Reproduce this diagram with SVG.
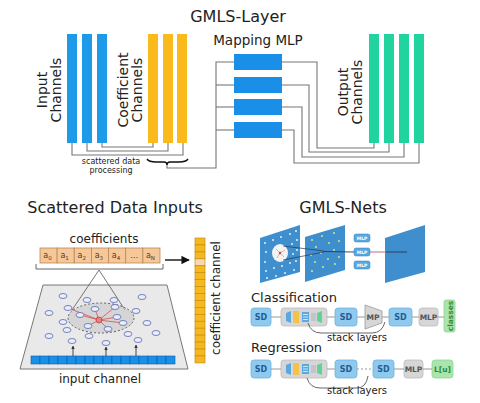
<svg xmlns="http://www.w3.org/2000/svg" width="480" height="403" viewBox="0 0 480 403">
<defs>
<style>
text{font-family:"DejaVu Sans","Liberation Sans",sans-serif;fill:#222}
.ttl{font-size:16px}
.lab{font-size:14px}
.con{fill:none;stroke:#777;stroke-width:1.1}
.bb{fill:#1d9be9}
.yb{fill:#fbba1b}
.gb{fill:#20d39f}
.mlp{fill:#1a8fe8}
.sd{fill:#8fc9ee;stroke:#6cb2e2;stroke-width:0.8}
.sdt{font-size:8px;font-weight:bold;fill:#1d5f95;text-anchor:middle}
.gr{fill:#d6d6d6;stroke:#bdbdbd;stroke-width:0.8}
.grt{font-size:7.5px;font-weight:bold;fill:#555;text-anchor:middle}
.gn{fill:#a9e5ad;stroke:#8fd696;stroke-width:0.8}
.gnt{font-size:7.5px;font-weight:bold;fill:#2f8a3f;text-anchor:middle}
.dash{stroke:#999;stroke-width:1.2;fill:none}
.pt{fill:#e9eef9;stroke:#5a66b4;stroke-width:0.8}
.cc{fill:#f5c799;stroke:#b88a5a;stroke-width:0.8}
.cct{font-size:8px;fill:#5a3a1a;text-anchor:middle}
.pl{fill:#3f8fcf}
.wd{fill:#dff0ff}
.yd{fill:#cde27a}
</style>
<marker id="ah" viewBox="0 0 10 10" refX="9" refY="5" markerWidth="6" markerHeight="6" orient="auto"><path d="M0,0 L10,5 L0,10 z" fill="#111"/></marker>
<marker id="ah2" viewBox="0 0 10 10" refX="9" refY="5" markerWidth="4" markerHeight="4" orient="auto"><path d="M0,0 L10,5 L0,10 z" fill="#333"/></marker>
</defs>
<rect width="480" height="403" fill="#ffffff"/>

<!-- ===== GMLS-Layer ===== -->
<text class="ttl" x="238" y="22" text-anchor="middle">GMLS-Layer</text>

<g id="input-channels">
<rect class="bb" x="67" y="34" width="10" height="109"/>
<rect class="bb" x="82" y="34" width="10" height="109"/>
<rect class="bb" x="97" y="34" width="10" height="109"/>
<g transform="translate(0,90) rotate(-90)">
<text class="lab" x="0" y="47" text-anchor="middle">Input</text>
<text class="lab" x="0" y="61" text-anchor="middle">Channels</text>
</g>
</g>

<g id="coefficient-channels">
<rect class="yb" x="148" y="34" width="10" height="109"/>
<rect class="yb" x="163" y="34" width="10" height="109"/>
<rect class="yb" x="177" y="34" width="10" height="109"/>
<g transform="translate(0,90) rotate(-90)">
<text class="lab" x="0" y="128" text-anchor="middle">Coefficient</text>
<text class="lab" x="0" y="142" text-anchor="middle">Channels</text>
</g>
</g>

<g id="mapping-mlp">
<text x="258" y="45" text-anchor="middle" style="font-size:13.5px">Mapping MLP</text>
<rect class="mlp" x="234" y="54" width="48" height="16"/>
<rect class="mlp" x="234" y="77" width="48" height="16"/>
<rect class="mlp" x="234" y="99" width="48" height="16"/>
<rect class="mlp" x="234" y="122" width="48" height="16"/>
</g>

<g id="output-channels">
<rect class="gb" x="369" y="34" width="10" height="109"/>
<rect class="gb" x="384" y="34" width="10" height="109"/>
<rect class="gb" x="399" y="34" width="10" height="109"/>
<rect class="gb" x="414" y="34" width="10" height="109"/>
<g transform="translate(0,92) rotate(-90)">
<text class="lab" x="0" y="348" text-anchor="middle">Output</text>
<text class="lab" x="0" y="362" text-anchor="middle">Channels</text>
</g>
</g>

<g id="scattered-processing">
<text x="111" y="163.5" text-anchor="middle" style="font-size:8px">scattered data</text>
<text x="111" y="172.5" text-anchor="middle" style="font-size:8px">processing</text>
<path d="M147,159 Q149,162 156,162 L164,162 Q167,162 167,165 Q167,162 170,162 L179,162 Q186,162 188,159" fill="none" stroke="#111" stroke-width="1.4"/>
</g>

<g id="connectors-top">
<path class="con" d="M72,143 V155 H183 V143"/>
<path class="con" d="M87,143 V151 H168 V143"/>
<path class="con" d="M102,143 V147 H153 V143"/>
<path class="con" d="M167,165 V168 H216 V62 H234"/>
<path class="con" d="M216,85 H234"/>
<path class="con" d="M216,107 H234"/>
<path class="con" d="M216,130 H234"/>
<path class="con" d="M282,62 H317 V148 H374 V143"/>
<path class="con" d="M282,85 H309 V152 H389 V143"/>
<path class="con" d="M282,107 H302 V157 H404 V143"/>
<path class="con" d="M282,130 H294 V163 H419 V143"/>
</g>

<!-- ===== Scattered Data Inputs ===== -->
<text class="ttl" x="115" y="213" text-anchor="middle">Scattered Data Inputs</text>

<g id="coefficients">
<text x="104" y="243" text-anchor="middle" style="font-size:12px">coefficients</text>
<rect class="cc" x="40" y="248" width="17.1" height="15"/>
<rect class="cc" x="57.1" y="248" width="17.1" height="15"/>
<rect class="cc" x="74.3" y="248" width="17.1" height="15"/>
<rect class="cc" x="91.4" y="248" width="17.1" height="15"/>
<rect class="cc" x="108.6" y="248" width="17.1" height="15"/>
<rect class="cc" x="125.7" y="248" width="17.1" height="15"/>
<rect class="cc" x="142.9" y="248" width="17.1" height="15"/>
<text class="cct" x="47.5" y="258">a<tspan font-size="5.5" dy="1.5">0</tspan></text>
<text class="cct" x="64.6" y="258">a<tspan font-size="5.5" dy="1.5">1</tspan></text>
<text class="cct" x="81.8" y="258">a<tspan font-size="5.5" dy="1.5">2</tspan></text>
<text class="cct" x="98.9" y="258">a<tspan font-size="5.5" dy="1.5">3</tspan></text>
<text class="cct" x="116" y="258">a<tspan font-size="5.5" dy="1.5">4</tspan></text>
<text class="cct" x="134.2" y="258">…</text>
<text class="cct" x="150.4" y="258">a<tspan font-size="5.5" dy="1.5">N</tspan></text>
<path d="M36,264 V269 H163 V264" fill="none" stroke="#666" stroke-width="1"/>
</g>

<g id="coefficient-channel">
<g fill="#f5b820" stroke="#c58f12" stroke-width="0.7">
<rect x="195" y="238" width="10" height="6.94"/>
<rect x="195" y="244.94" width="10" height="6.94"/>
<rect x="195" y="251.88" width="10" height="6.94"/>
<rect x="195" y="258.82" width="10" height="6.94" fill="#f8d8b0"/>
<rect x="195" y="265.76" width="10" height="6.94"/>
<rect x="195" y="272.7" width="10" height="6.94"/>
<rect x="195" y="279.64" width="10" height="6.94"/>
<rect x="195" y="286.58" width="10" height="6.94"/>
<rect x="195" y="293.52" width="10" height="6.94"/>
<rect x="195" y="300.46" width="10" height="6.94"/>
<rect x="195" y="307.4" width="10" height="6.94"/>
<rect x="195" y="314.34" width="10" height="6.94"/>
<rect x="195" y="321.28" width="10" height="6.94"/>
<rect x="195" y="328.22" width="10" height="6.94"/>
<rect x="195" y="335.16" width="10" height="6.94"/>
<rect x="195" y="342.1" width="10" height="6.94"/>
<rect x="195" y="349.04" width="10" height="6.94"/>
<rect x="195" y="355.98" width="10" height="6.94"/>
</g>
<text transform="translate(0,298) rotate(-90)" x="0" y="220" text-anchor="middle" style="font-size:12px">coefficient channel</text>
</g>

<g id="scatter-plane">
<polygon points="43,285 167,285 188,369 20,369" fill="#e9e9e9" stroke="#777" stroke-width="1"/>
<line x1="99" y1="270" x2="72" y2="310" stroke="#666" stroke-width="0.9"/>
<line x1="99" y1="270" x2="125" y2="310" stroke="#666" stroke-width="0.9"/>
<ellipse cx="101" cy="318" rx="33" ry="15" fill="#c8c8c8" fill-opacity="0.6" stroke="#555" stroke-width="0.9" stroke-dasharray="2,2"/>
<g stroke="#d05050" stroke-width="0.8">
<line x1="99" y1="320" x2="80" y2="315"/>
<line x1="99" y1="320" x2="95" y2="309"/>
<line x1="99" y1="320" x2="115" y2="307"/>
<line x1="99" y1="320" x2="117" y2="317"/>
<line x1="99" y1="320" x2="123" y2="323"/>
<line x1="99" y1="320" x2="108" y2="329"/>
<line x1="99" y1="320" x2="88" y2="326"/>
<line x1="99" y1="320" x2="68" y2="308"/>
</g>
<g class="pt">
<ellipse cx="63" cy="296" rx="4" ry="2.5"/>
<ellipse cx="87" cy="300" rx="4" ry="2.5"/>
<ellipse cx="114" cy="300" rx="4" ry="2.5"/>
<ellipse cx="142" cy="297" rx="4" ry="2.5"/>
<ellipse cx="68" cy="308" rx="4" ry="2.5"/>
<ellipse cx="95" cy="309" rx="4" ry="2.5"/>
<ellipse cx="115" cy="307" rx="4" ry="2.5"/>
<ellipse cx="136" cy="311" rx="4" ry="2.5"/>
<ellipse cx="49" cy="313" rx="4" ry="2.5"/>
<ellipse cx="80" cy="315" rx="4" ry="2.5"/>
<ellipse cx="117" cy="317" rx="4" ry="2.5"/>
<ellipse cx="63" cy="322" rx="4" ry="2.5"/>
<ellipse cx="123" cy="323" rx="4" ry="2.5"/>
<ellipse cx="147" cy="323" rx="4" ry="2.5"/>
<ellipse cx="88" cy="326" rx="4" ry="2.5"/>
<ellipse cx="108" cy="329" rx="4" ry="2.5"/>
<ellipse cx="67" cy="330" rx="4" ry="2.5"/>
<ellipse cx="49" cy="336" rx="4" ry="2.5"/>
<ellipse cx="89" cy="336" rx="4" ry="2.5"/>
<ellipse cx="128" cy="334" rx="4" ry="2.5"/>
<ellipse cx="156" cy="333" rx="4" ry="2.5"/>
<ellipse cx="72" cy="341" rx="4" ry="2.5"/>
<ellipse cx="106" cy="343" rx="4" ry="2.5"/>
<ellipse cx="138" cy="340" rx="4" ry="2.5"/>
</g>
<circle cx="99" cy="320" r="3" fill="#e88080" stroke="#c03030" stroke-width="0.7"/>
</g>

<g id="input-channel">
<g fill="#1a8fe8" stroke="#0c5fa5" stroke-width="0.6">
<rect x="31" y="356" width="9" height="8"/><rect x="40" y="356" width="9" height="8"/><rect x="49" y="356" width="9" height="8"/><rect x="58" y="356" width="9" height="8"/>
<rect x="67" y="356" width="9" height="8"/><rect x="76" y="356" width="9" height="8"/><rect x="85" y="356" width="9" height="8"/><rect x="94" y="356" width="9" height="8"/>
<rect x="103" y="356" width="9" height="8"/><rect x="112" y="356" width="9" height="8"/><rect x="121" y="356" width="9" height="8"/><rect x="130" y="356" width="9" height="8"/>
<rect x="139" y="356" width="9" height="8"/><rect x="148" y="356" width="9" height="8"/><rect x="157" y="356" width="9" height="8"/><rect x="166" y="356" width="9" height="8"/>
</g>
<text x="100" y="383" text-anchor="middle" style="font-size:12px">input channel</text>
</g>

<g id="connectors-bottom-left">
<line x1="165" y1="260" x2="189" y2="260" stroke="#111" stroke-width="1.4" marker-end="url(#ah)"/>
<line x1="73" y1="356" x2="73" y2="346" stroke="#333" stroke-width="0.9" marker-end="url(#ah2)"/>
<line x1="106" y1="356" x2="106" y2="347" stroke="#333" stroke-width="0.9" marker-end="url(#ah2)"/>
<line x1="136" y1="356" x2="136" y2="345" stroke="#333" stroke-width="0.9" marker-end="url(#ah2)"/>
</g>

<!-- ===== GMLS-Nets ===== -->
<text class="ttl" x="343" y="213" text-anchor="middle">GMLS-Nets</text>

<g id="nets-planes">
<polygon class="pl" points="260,238 300,225 300,272 260,283"/>
<g class="wd">
<circle cx="265" cy="243" r="1"/><circle cx="273" cy="240" r="1"/><circle cx="281" cy="237" r="1"/><circle cx="290" cy="234" r="1"/><circle cx="296" cy="231" r="1"/>
<circle cx="266" cy="252" r="1"/><circle cx="292" cy="244" r="1"/><circle cx="297" cy="240" r="1"/>
<circle cx="265" cy="262" r="1"/><circle cx="293" cy="254" r="1"/><circle cx="297" cy="250" r="1"/>
<circle cx="266" cy="271" r="1"/><circle cx="274" cy="268" r="1"/><circle cx="282" cy="266" r="1"/><circle cx="290" cy="263" r="1"/><circle cx="296" cy="261" r="1"/>
<circle cx="267" cy="278" r="1"/><circle cx="276" cy="276" r="1"/><circle cx="285" cy="273" r="1"/><circle cx="294" cy="270" r="1"/>
</g>
<ellipse cx="280" cy="253" rx="8" ry="9" fill="#f3f3f3"/>
<g stroke="#b07070" stroke-width="0.5" fill="none">
<path d="M276,249 L280,253 L285,250 M280,253 L277,258 M280,253 L284,257"/>
</g>
<circle cx="280" cy="253" r="1.2" fill="#d04040"/>

<polygon class="pl" points="305,237 345,225 345,270 305,282"/>
<g class="yd">
<circle cx="312" cy="240" r="1.1"/><circle cx="322" cy="236" r="1.1"/><circle cx="334" cy="233" r="1.1"/>
<circle cx="316" cy="247" r="1.1"/><circle cx="329" cy="243" r="1.1"/><circle cx="339" cy="241" r="1.1"/>
<circle cx="311" cy="255" r="1.1"/><circle cx="321" cy="253" r="1.1"/><circle cx="334" cy="250" r="1.1"/>
<circle cx="315" cy="262" r="1.1"/><circle cx="328" cy="259" r="1.1"/><circle cx="339" cy="257" r="1.1"/>
<circle cx="312" cy="271" r="1.1"/><circle cx="323" cy="267" r="1.1"/><circle cx="335" cy="264" r="1.1"/>
</g>

<polygon class="pl" points="385,238 425,225 425,272 385,283"/>
</g>

<g id="nets-mlp">
<rect x="354" y="234" width="16" height="8" rx="2" fill="#5aa8e0" stroke="#2d7fc0" stroke-width="0.5"/>
<rect x="354" y="248" width="16" height="8" rx="2" fill="#5aa8e0" stroke="#2d7fc0" stroke-width="0.5"/>
<rect x="354" y="261" width="16" height="8" rx="2" fill="#5aa8e0" stroke="#2d7fc0" stroke-width="0.5"/>
<text x="362" y="239.8" text-anchor="middle" style="font-size:4.5px;font-weight:bold;fill:#fff">MLP</text>
<text x="362" y="253.8" text-anchor="middle" style="font-size:4.5px;font-weight:bold;fill:#fff">MLP</text>
<text x="362" y="266.8" text-anchor="middle" style="font-size:4.5px;font-weight:bold;fill:#fff">MLP</text>
</g>

<g id="nets-connectors">
<line x1="283" y1="246" x2="324" y2="251" stroke="#2a3550" stroke-width="0.7"/>
<line x1="283" y1="260" x2="324" y2="252" stroke="#2a3550" stroke-width="0.7"/>
<line x1="324" y1="251.5" x2="354" y2="252" stroke="#2a3550" stroke-width="0.9"/>
<line x1="370" y1="252" x2="386" y2="252" stroke="#b06060" stroke-width="0.9"/>
<line x1="386" y1="252" x2="407" y2="252" stroke="#2a3550" stroke-width="0.9"/>
</g>

<!-- Classification -->
<text x="251" y="302" style="font-size:13px">Classification</text>
<g id="cls-sd1"><rect class="sd" x="251" y="308" width="20" height="18" rx="3"/><text class="sdt" x="261" y="320">SD</text></g>
<g id="cls-block">
<rect class="gr" x="281" y="308" width="46" height="18" rx="3"/>
<path d="M286,313 L291,311 L291,323 L286,321 Z" fill="#5aa8e0"/>
<rect x="293" y="311" width="6" height="12" fill="#f3c24a"/>
<rect x="302" y="312" width="7" height="10" fill="#5aa8e0"/>
<path d="M303,314.5 H308 M303,317 H308 M303,319.5 H308" stroke="#fff" stroke-width="0.7"/>
<rect x="311" y="313" width="5" height="8" fill="#c4c4c4"/>
<path d="M317,313 L322,311 L322,323 L317,321 Z" fill="#5fd39c"/>
</g>
<g id="cls-sd2"><rect class="sd" x="335" y="308" width="22" height="18" rx="3"/><text class="sdt" x="346" y="320">SD</text></g>
<g id="cls-mp"><polygon points="365,305 382,311 382,323 365,329" fill="#d6d6d6" stroke="#999" stroke-width="0.8"/><text class="grt" x="373" y="320">MP</text></g>
<g id="cls-sd3"><rect class="sd" x="389" y="308" width="23" height="18" rx="3"/><text class="sdt" x="400.5" y="320">SD</text></g>
<g id="cls-mlp"><rect class="gr" x="419" y="308" width="19" height="18" rx="3"/><text class="grt" x="428.5" y="320">MLP</text></g>
<g id="cls-classes"><rect class="gn" x="444" y="300" width="11" height="32" rx="2"/><text class="gnt" transform="translate(0,316) rotate(-90)" x="0" y="452.5">classes</text></g>

<!-- Regression -->
<text x="251" y="352" style="font-size:13px">Regression</text>
<g id="reg-sd1"><rect class="sd" x="251" y="360" width="20" height="18" rx="3"/><text class="sdt" x="261" y="372">SD</text></g>
<g id="reg-block">
<rect class="gr" x="281" y="360" width="46" height="18" rx="3"/>
<path d="M286,365 L291,363 L291,375 L286,373 Z" fill="#5aa8e0"/>
<rect x="293" y="363" width="6" height="12" fill="#f3c24a"/>
<rect x="302" y="364" width="7" height="10" fill="#5aa8e0"/>
<path d="M303,366.5 H308 M303,369 H308 M303,371.5 H308" stroke="#fff" stroke-width="0.7"/>
<rect x="311" y="365" width="5" height="8" fill="#c4c4c4"/>
<path d="M317,365 L322,363 L322,375 L317,373 Z" fill="#5fd39c"/>
</g>
<g id="reg-sd2"><rect class="sd" x="335" y="360" width="22" height="18" rx="3"/><text class="sdt" x="346" y="372">SD</text></g>
<g id="reg-sd3"><rect class="sd" x="373" y="360" width="21" height="18" rx="3"/><text class="sdt" x="383.5" y="372">SD</text></g>
<g id="reg-mlp"><rect class="gr" x="404" y="360" width="19" height="18" rx="3"/><text class="grt" x="413.5" y="372">MLP</text></g>
<g id="reg-lu"><rect class="gn" x="432" y="360" width="21" height="18" rx="3"/><text class="gnt" x="442.5" y="372">L[u]</text></g>

<g id="nets-row-connectors">
<path class="dash" d="M271,317 H281 M327,317 H335 M357,317 H365 M382,317 H389 M412,317 H419 M438,317 H444"/>
<path class="dash" d="M271,369 H281 M327,369 H335 M394,369 H404 M423,369 H432"/>
<path class="dash" d="M357,369 H373" stroke-dasharray="2,2"/>
<path d="M308,323 Q311,333 321,333 L372,333 Q382,333 385,322" fill="none" stroke="#666" stroke-width="1"/>
<path d="M307,378 Q310,388 320,388 L357,388 Q366,388 368,376" fill="none" stroke="#666" stroke-width="1"/>
</g>
<text x="357" y="341" text-anchor="middle" style="font-size:10px">stack layers</text>
<text x="357" y="394" text-anchor="middle" style="font-size:10px">stack layers</text>
</svg>
